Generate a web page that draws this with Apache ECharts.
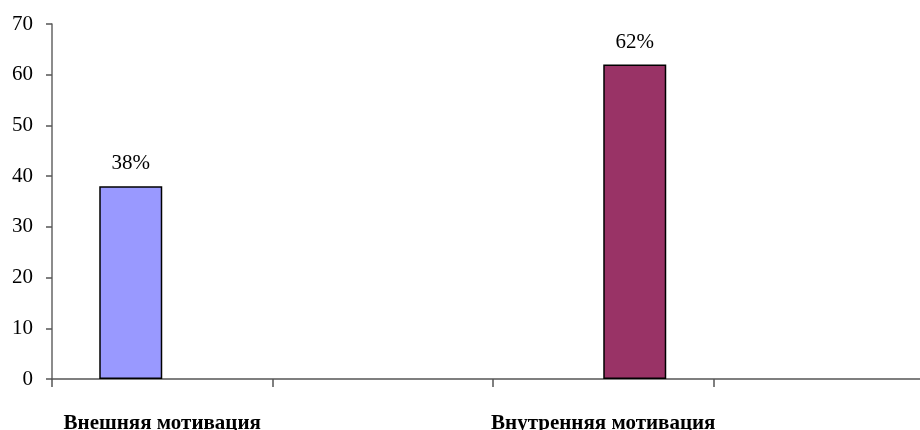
<!DOCTYPE html>
<html>
<head>
<meta charset="utf-8">
<script src="https://cdn.jsdelivr.net/npm/echarts@6/dist/echarts.min.js"></script>
<style>
  html, body { margin: 0; padding: 0; background: #fff; overflow: hidden; }
  #chart { width: 934px; height: 430px; }
</style>
</head>
<body>
<div id="chart"></div>
<script>
// category slots along the x axis (4 slots, labels under 1st and 3rd)
const categories = ['Внешняя мотивация', '', 'Внутренняя мотивация', '']
const outerValues = [38, '-', '-', '-']
const innerValues = ['-', '-', 62, '-']
const yTicks = { min: 0, max: 70, interval: 10 }

const serif = 'Liberation Serif'
const chart = echarts.init(document.getElementById('chart'))

const barLabel = {
  show: true,
  position: 'top',
  distance: 12,
  formatter: '{c}%',
  color: '#000',
  fontFamily: serif,
  fontSize: 21,
}

chart.setOption({
  backgroundColor: '#fff',
  animation: false,
  grid: { left: 52, right: 0, top: 24, bottom: 51, outerBoundsMode: 'none' },
  xAxis: {
    type: 'category',
    data: categories,
    boundaryGap: true,
    axisLine: { lineStyle: { color: '#555', width: 1.5 } },
    axisTick: { show: true, length: 8, alignWithLabel: false, lineStyle: { color: '#555', width: 1.5 } },
    axisLabel: {
      interval: 0,
      margin: 34,
      color: '#000',
      fontFamily: serif,
      fontWeight: 'bold',
      fontSize: 21,
      lineHeight: 21,
    },
    splitLine: { show: false },
  },
  yAxis: {
    type: 'value',
    min: yTicks.min,
    max: yTicks.max,
    interval: yTicks.interval,
    axisLine: { show: true, lineStyle: { color: '#666', width: 1.5 } },
    axisTick: { show: true, length: 6, lineStyle: { color: '#555', width: 1.5 } },
    axisLabel: { margin: 19, color: '#000', fontFamily: serif, fontSize: 21 },
    splitLine: { show: false },
  },
  series: [
    {
      type: 'bar',
      data: outerValues,
      barWidth: 63,
      barGap: '0%',
      itemStyle: { color: '#9999FF', borderColor: '#000', borderWidth: 1.5 },
      label: barLabel,
    },
    {
      type: 'bar',
      data: innerValues,
      barWidth: 63,
      barGap: '0%',
      itemStyle: { color: '#993366', borderColor: '#000', borderWidth: 1.5 },
      label: barLabel,
    },
  ],
})
</script>
</body>
</html>
